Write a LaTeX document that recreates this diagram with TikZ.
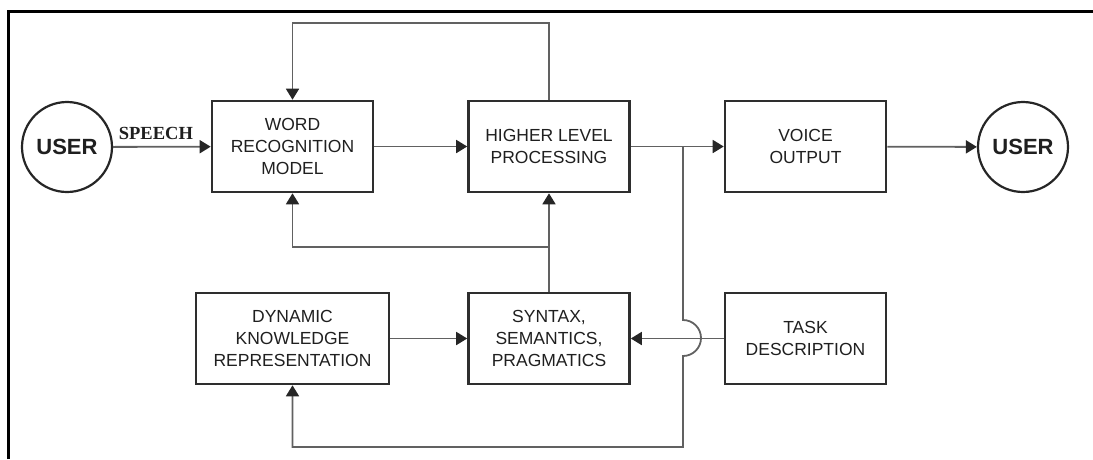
\documentclass[tikz,border=0pt]{standalone}
\usepackage{fontspec}
\setmainfont{Liberation Sans}
\newfontfamily\speechfont{Liberation Serif}
\usetikzlibrary{arrows.meta}
\colorlet{wiregray}{black!62}
\colorlet{rimgray}{black!82}

\begin{document}
\begin{tikzpicture}[
            x=1pt, y=-1pt,
            every node/.append style={text=black!88},
            block/.style={draw=rimgray, line width=2.6pt, minimum width=161pt,
                minimum height=91pt, align=center,
                font=\fontsize{17.5}{21.7}\selectfont},
            person/.style={circle, draw=black!85, line width=2.2pt,
                minimum size=90pt, font=\fontsize{22}{26}\selectfont\bfseries},
            wire/.style={draw=wiregray, line width=1.8pt},
            arrow/.style={wire, -{Triangle[length=11pt,width=13pt,color=black!85]}}
        ]
            \useasboundingbox (0,0) rectangle (1093,459);
            \draw [black,line width=3pt] (8,459)
                -- (8,11)
                -- (1093,11)
            ;
            \node[person] (userL) at (67,147) {USER};
            \node[block] (wrm) at (292.5,146.5) {WORD\\RECOGNITION\\MODEL};
            \node[block] (hlp) at (549,146.5) {HIGHER LEVEL\\PROCESSING};
            \node[block] (vo) at (805.5,146.5) {VOICE\\OUTPUT};
            \node[person] (userR) at (1023,147) {USER};
            \node[block, minimum width=193pt] (dkr) at (292.5,338.5) {DYNAMIC\\KNOWLEDGE\\REPRESENTATION};
            \node[block] (ssp) at (549,338.5) {SYNTAX,\\SEMANTICS,\\PRAGMATICS};
            \node[block] (td) at (805.5,338.5) {TASK\\DESCRIPTION};
            \coordinate (split) at (683,146.5);
            \coordinate (fork) at (549,247);

            \draw [arrow] (userL)
                -- node[above, inner sep=6pt, xshift=-6pt, font=\speechfont\bfseries\fontsize{18.5}{18.5}\selectfont] {SPEECH} (wrm);
            \draw [arrow] (wrm) -- (hlp);
            \draw [wire] (hlp) -- (split);
            \draw [arrow] (split) -- (vo);
            \draw [arrow] (vo) -- (userR);
            \draw [arrow] (hlp.north)
                -- ++(0,-77)
                -| (wrm.north)
            ;
            \draw [arrow] (ssp.north) -- (hlp.south);
            \draw [arrow] (fork) -| (wrm.south);
            \draw [arrow] (dkr) -- (ssp);
            \draw [arrow] (td) -- (ssp);
            \draw [arrow] (split)
                -- (683,320)
                arc [start angle=90, end angle=-90, radius=18pt]
                -- (683,447)
                -| (dkr.south)
            ;
        \end{tikzpicture}
\end{document}
